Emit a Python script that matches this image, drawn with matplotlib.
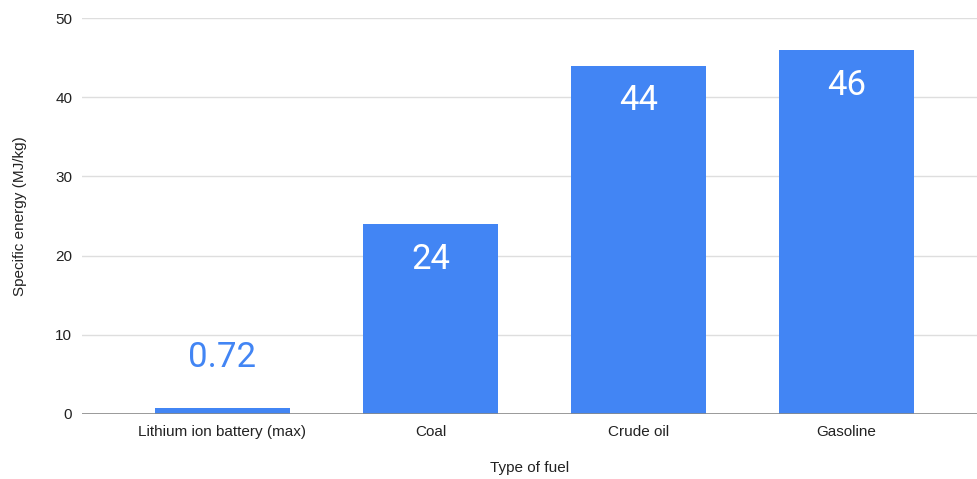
import matplotlib
matplotlib.use("Agg")
import matplotlib.pyplot as plt

fuels = ["Lithium ion battery (max)", "Coal", "Crude oil", "Gasoline"]
specific_energy = [0.72, 24, 44, 46]
value_labels = ["0.72", "24", "44", "46"]
y_ticks = [0, 10, 20, 30, 40, 50]

BLUE = "#4285F4"

fig = plt.figure(figsize=(9.77, 4.79), dpi=100)
ax = fig.add_axes([0.0839, 0.1357, 0.9161, 0.8267])

x = list(range(len(fuels)))
bars = ax.bar(x, specific_energy, width=0.65, color=BLUE, zorder=3)

ax.set_xlim(-0.675, 3.627)
ax.set_ylim(0, 50)
ax.set_yticks(y_ticks)
ax.set_xticks(x)
ax.set_xticklabels(fuels)

for spine in ax.spines.values():
    spine.set_visible(False)
ax.grid(axis="y", color="#dedede", linewidth=1, zorder=0)
ax.axhline(0, color="#8a8a8a", linewidth=1.2, zorder=4)
ax.tick_params(axis="both", length=0, labelsize=11, labelcolor="#222222",
               labelfontfamily="Liberation Sans")
ax.tick_params(axis="y", pad=7)
ax.tick_params(axis="x", pad=8)

for val, lab, xi in zip(specific_energy, value_labels, x):
    if val > 10:
        ax.annotate(lab, (xi, val), xytext=(0, -25.5), textcoords="offset points",
                    ha="center", va="center", color="white", fontsize=25,
                    family="Roboto", zorder=5)
    else:
        ax.annotate(lab, (xi, val), xytext=(0, 36.5), textcoords="offset points",
                    ha="center", va="center", color=BLUE, fontsize=25,
                    family="Roboto", zorder=5)

ax.set_xlabel("Type of fuel", fontsize=11, family="Liberation Sans",
              color="#222222", labelpad=16)
ax.set_ylabel("Specific energy (MJ/kg)", fontsize=11, family="Liberation Sans",
              color="#222222", labelpad=20)

fig.savefig("out.png", dpi=100, facecolor="white")
